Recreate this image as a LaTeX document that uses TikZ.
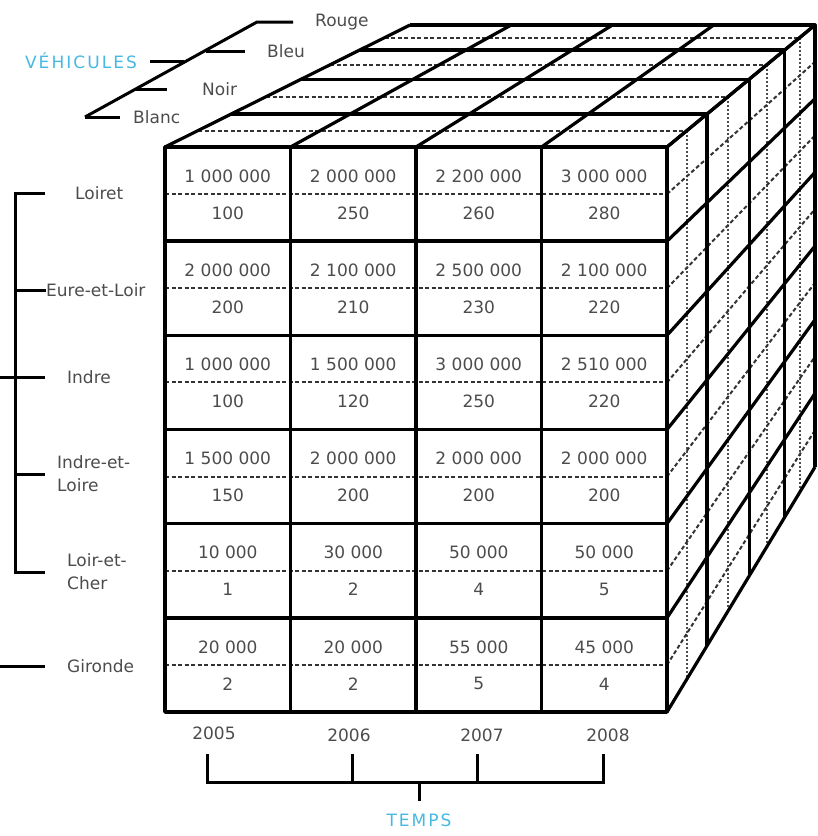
\documentclass[tikz,border=0pt]{standalone}
\usepackage{fontspec}
\setmainfont{DejaVu Sans}
\newfontfamily\spacedfont[LetterSpace=12]{DejaVu Sans}
\definecolor{axisblue}{RGB}{70,185,225}
\tikzset{
	cube/.style={line width=3.2pt, line join=round},
	midline/.style={line width=2pt, dash pattern=on 4pt off 2.5pt, black!80},
	depthline/.style={line width=1.8pt, dash pattern=on 2pt off 2pt, black!70},
	brace/.style={line width=3pt},
	txt/.style={font=\fontsize{17}{23}\selectfont, text=black!70, inner sep=0pt},
	axis/.style={font=\spacedfont\fontsize{17}{23}\selectfont, text=axisblue, inner sep=0pt}
}
\begin{document}
\begin{tikzpicture}[x=1pt,y=-1pt]
	\useasboundingbox (0,0) rectangle (818,836);
	% depth layers (top face and right face)
	\foreach \t in {0.135,0.4125,0.675,0.8975} {
		\draw[midline] ({165+245*\t},{147-122*\t}) -- ({667+148*\t},{147-122*\t});
		\draw[depthline] ({667+148*\t},{147-122*\t}) -- ({667+148*\t},{712-245*\t});
	}
	\foreach \i in {0.5,1.5,...,5.5}
		\draw[midline] (667,{147+565/6*\i}) -- (815,{25+442/6*\i});
	\foreach \t in {0.27,0.555,0.795,1}
		\draw[cube] ({165+245*\t},{147-122*\t}) -- ({667+148*\t},{147-122*\t}) -- ({667+148*\t},{712-245*\t});
	\foreach \j in {0,...,4}
		\draw[cube] ({165+125.5*\j},147) -- ({410+101.25*\j},25);
	\foreach \i in {0,...,6}
		\draw[cube] (667,{147+565/6*\i}) -- (815,{25+442/6*\i});
	% front face
	\foreach \i in {0,...,5}
		\draw[midline] (165,{147+565/6*(\i+0.5)}) -- (667,{147+565/6*(\i+0.5)});
	\foreach \j in {1,2,3}
		\draw[cube] ({165+125.5*\j},147) -- ({165+125.5*\j},712);
	\foreach \i in {1,...,5}
		\draw[cube, line width=3.6pt] (165,{147+565/6*\i}) -- (667,{147+565/6*\i});
	\draw[cube, line width=3.6pt] (165,147) rectangle (667,712);
	\foreach \valA/\valB [count=\n from 0] in {
		1 000 000/100, 2 000 000/250, 2 200 000/260, 3 000 000/280,
		2 000 000/200, 2 100 000/210, 2 500 000/230, 2 100 000/220,
		1 000 000/100, 1 500 000/120, 3 000 000/250, 2 510 000/220,
		1 500 000/150, 2 000 000/200, 2 000 000/200, 2 000 000/200,
		10 000/1, 30 000/2, 50 000/4, 50 000/5,
		20 000/2, 20 000/2, 55 000/5, 45 000/4} {
		\pgfmathtruncatemacro\r{div(\n,4)}
		\pgfmathtruncatemacro\c{mod(\n,4)}
		\node[txt] (up-\r-\c) at ({227.75+125.5*\c},{147+565/6*\r+29}) {\valA};
		\node[txt] (lo-\r-\c) at ({227.75+125.5*\c},{147+565/6*\r+66}) {\valB};
	}
	% vehicules
	\node[axis] (vehicules) at (81,61) {VÉHICULES};
	\node[txt, anchor=west] (rouge) at (315,22) {Rouge};
	\node[txt, anchor=west] (bleu) at (267,51) {Bleu};
	\node[txt, anchor=west] (noir) at (202,89) {Noir};
	\node[txt, anchor=west] (blanc) at (133,117) {Blanc};
	\coordinate (v-bot) at ([xshift=-48pt]blanc.west);
	\coordinate (v-top) at ([xshift=-58pt]rouge.west);
	\draw[brace] (v-bot) -- (v-top) -- ([xshift=-22pt]rouge.west);
	\draw[brace] (v-bot) -- ([xshift=-13pt]blanc.west);
	\draw[brace] ([xshift=-22pt]bleu.west) -- ++(-39,0);
	\draw[brace] ([xshift=-35pt]noir.west) -- ++(-32,0);
	\draw[brace] ([xshift=13pt]vehicules.east) -- ++(34,0);
	% regions
	\node[txt, anchor=west] (loiret) at (75,193) {Loiret};
	\node[txt, anchor=west] (eure) at (46,290) {Eure-et-Loir};
	\node[txt, anchor=west] (indre) at (67,377) {Indre};
	\node[txt, anchor=west, align=left] (indreloire) at (57,474) {Indre-et-\\Loire};
	\node[txt, anchor=west, align=left] (loircher) at (67,572) {Loir-et-\\Cher};
	\node[txt, anchor=west] (gironde) at (67,666) {Gironde};
	\draw[brace] ([xshift=-30pt]loiret.west) -- ++(-30,0) |- ([xshift=-22pt]loircher.west);
	\draw[brace] (eure.west) -- ++(-31,0);
	\draw[brace] ([xshift=-22pt]indre.west) -- ++(-45,0);
	\draw[brace] ([xshift=-12pt]indreloire.west) -- ++(-30,0);
	\draw[brace] ([xshift=-22pt]gironde.west) -- ++(-45,0);
	% temps
	\node[txt] (y2005) at (214,733) {2005};
	\node[txt] (y2006) at (349,735) {2006};
	\node[txt] (y2007) at (482,735) {2007};
	\node[txt] (y2008) at (608,735) {2008};
	\node[axis] (temps) at (419,820) {TEMPS};
	\coordinate (t1) at (207,754);
	\coordinate (t2) at (352,754);
	\coordinate (t3) at (477,754);
	\coordinate (t4) at (603,754);
	\draw[brace] (t1) -- ++(0,28) -| (t4);
	\draw[brace] (t2) -- ++(0,28);
	\draw[brace] (t3) -- ++(0,28);
	\draw[brace] (419,782) -- ([yshift=12pt]temps.north);
\end{tikzpicture}
\end{document}
